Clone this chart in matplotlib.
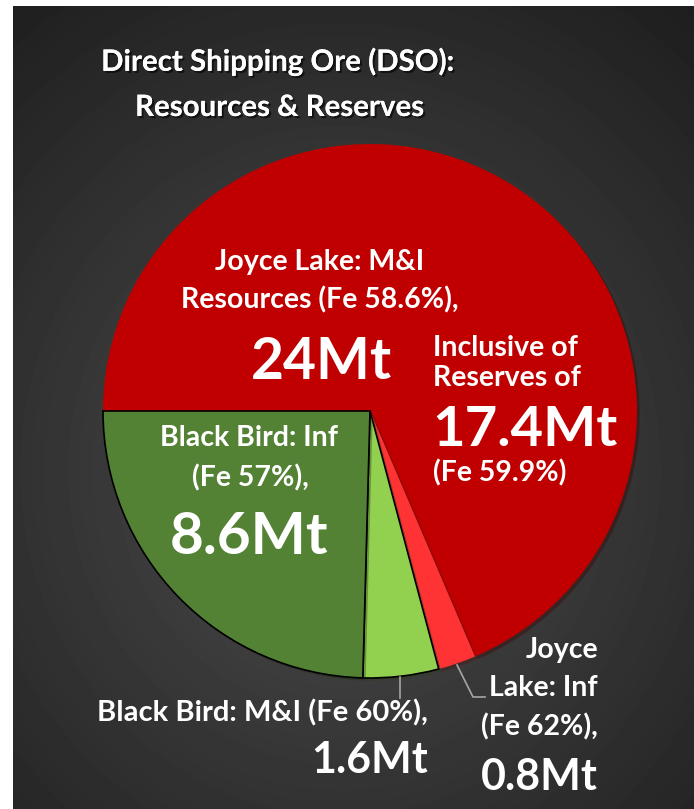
import numpy as np
import matplotlib
matplotlib.use("Agg")
import matplotlib.pyplot as plt
import matplotlib.patheffects as pe

# данные
deposits = ["Joyce Lake", "Joyce Lake", "Black Bird", "Black Bird"]
categories = ["M&I", "Inf", "M&I", "Inf"]
tonnage = [24, 0.8, 1.6, 8.6]          # Mt
fe_grade = [58.6, 62, 60, 57]          # Fe %
colors = ["#C00000", "#FF3333", "#92D050", "#548235"]
reserve_t = 17.4
reserve_fe = 59.9

W, H = 694, 809
plt.rcParams['font.family'] = ['Lato', 'DejaVu Sans']
plt.rcParams['font.weight'] = 'bold'

fig = plt.figure(figsize=(W / 100, H / 100), dpi=100, facecolor="white")

# фон - радиальный градиент
bg = fig.add_axes([0, 0, 1, 1])
bg.set_xlim(0, W)
bg.set_ylim(H, 0)
bg.axis("off")
yy, xx = np.mgrid[6:H, 13:W]
r = np.hypot((xx - 340) / 520, (yy - 470) / 560)
shade = np.clip(0.30 - 0.17 * r, 0.11, 0.30)
bg.imshow(shade, cmap="gray", vmin=0, vmax=1, extent=[13, W, H, 6],
          aspect="auto", interpolation="bilinear")

# пирог
cx, cy, R = 370, 411, 267
ax = fig.add_axes([(cx - R) / W, (H - cy - R) / H, 2 * R / W, 2 * R / H])
wedges, _ = ax.pie(tonnage, colors=colors, startangle=180, counterclock=False,
                   radius=1, wedgeprops=dict(linewidth=0))
for w, col in zip(wedges, colors):
    if col in ("#92D050", "#548235"):
        w.set_edgecolor("black")
        w.set_linewidth(1.2)
    w.set_path_effects([pe.withSimplePatchShadow(offset=(2, -2), alpha=0.35)])
ax.set_xlim(-1, 1)
ax.set_ylim(-1, 1)
ax.axis("off")

# слой подписей в пикселях
ov = fig.add_axes([0, 0, 1, 1])
ov.set_xlim(0, W)
ov.set_ylim(H, 0)
ov.axis("off")
ov.patch.set_alpha(0)

shadow = [pe.withSimplePatchShadow(offset=(1.5, -1.5), shadow_rgbFace="black", alpha=0.6), pe.Normal()]


def put(x, y, s, size, ha="center", fx=None):
    ov.text(x, y, s, fontsize=size, color="white", ha=ha, va="center",
            fontweight="bold", path_effects=fx)


def mt(v):
    return f"{v:g}Mt"


def fe(v):
    return f"(Fe {v:g}%),"


# заголовок
put(277, 62, "Direct Shipping Ore (DSO):", 21.2, fx=shadow)
put(279, 108, "Resources & Reserves", 21.2, fx=shadow)

small = 20.5
# Joyce Lake M&I
put(320, 262, f"{deposits[0]}: {categories[0]}", small)
put(320, 300, f"Resources {fe(fe_grade[0])}", small)
put(321, 362, mt(tonnage[0]), 41)
put(433, 348, "Inclusive of", small, ha="left")
put(433, 378, "Reserves of", small, ha="left")
put(432, 430, mt(reserve_t), 40.5, ha="left")
put(433, 473, fe(reserve_fe).rstrip(","), small, ha="left")

# Black Bird Inf
put(249, 438, f"{deposits[3]}: {categories[3]}", small)
put(250, 478, fe(fe_grade[3]), small)
put(249, 537, mt(tonnage[3]), 42)

# Black Bird M&I
put(428, 713, f"{deposits[2]}: {categories[2]} {fe(fe_grade[2])}", 21, ha="right")
put(428, 760, mt(tonnage[2]), 31, ha="right")
ov.plot([400, 400], [677, 698], color="#A6A6A6", lw=1.2)

# Joyce Lake Inf
put(598, 650, "Joyce", small, ha="right")
put(598, 688, f"Lake: {categories[1]}", small, ha="right")
put(598, 727, fe(fe_grade[1]), small, ha="right")
put(598, 777, mt(tonnage[1]), 31, ha="right")
ov.plot([457, 473, 485], [665, 697, 697], color="#A6A6A6", lw=1.2)

fig.savefig("out.png", dpi=100, facecolor="white")
